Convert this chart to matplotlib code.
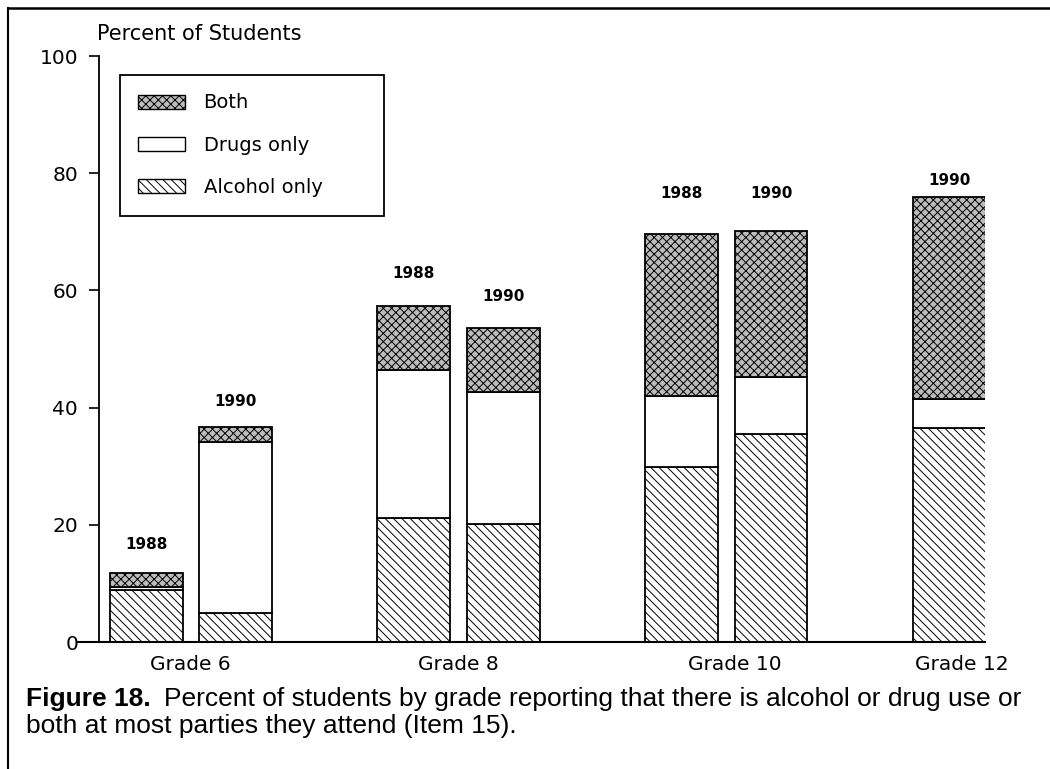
import matplotlib
matplotlib.use("Agg")
import matplotlib.pyplot as plt
from matplotlib.patches import Patch
from matplotlib.lines import Line2D

# data (percent of students)
grades = ["Grade 6", "Grade 8", "Grade 10", "Grade 12"]
bar_grade = [0, 0, 1, 1, 2, 2, 3]
bar_slot = [0, 1, 0, 1, 0, 1, 0]
bar_year = ["1988", "1990", "1988", "1990", "1988", "1990", "1990"]
alcohol = [8.8, 4.9, 21.2, 20.1, 29.9, 35.5, 36.6]
drugs = [0.6, 29.3, 25.2, 22.6, 12.0, 9.7, 4.8]
both = [2.4, 2.5, 10.9, 10.9, 27.8, 25.0, 34.5]
year_pad = [4.8, 4.3, 5.5, 5.4, 6.8, 6.4, 2.9]

W, H = 1050, 769
plt.rcParams['hatch.linewidth'] = 0.7
plt.rcParams['font.family'] = 'DejaVu Sans'

fig = plt.figure(figsize=(W / 100, H / 100), dpi=100)
ax = fig.add_axes([77 / W, 1 - 642 / H, 908 / W, (642 - 56) / H])

off = 0.167
width = 0.272
xs = [g + (-off if s == 0 else off) for g, s in zip(bar_grade, bar_slot)]

alc_hatch = '\\\\\\\\'
both_col = '#bcbcbc'
bot2 = [a + d for a, d in zip(alcohol, drugs)]
ax.bar(xs, alcohol, width, color='white', edgecolor='black', hatch=alc_hatch, linewidth=1.3)
ax.bar(xs, drugs, width, bottom=alcohol, color='white', edgecolor='black', linewidth=1.3)
ax.bar(xs, both, width, bottom=bot2, color=both_col, edgecolor='black', hatch='xxxx', linewidth=1.3)

for x, yr, b2, bo, p in zip(xs, bar_year, bot2, both, year_pad):
    ax.text(x, b2 + bo + p, yr, ha='center', va='center', fontsize=11, fontweight='bold')

ax.set_xlim(-0.425, 2.966)
ax.set_ylim(0, 100)
ax.spines['top'].set_visible(False)
ax.spines['right'].set_visible(False)
ax.spines['left'].set_position(('data', -0.343))
ax.spines['left'].set_linewidth(1.3)
ax.spines['bottom'].set_linewidth(1.5)

ax.set_yticks([0, 20, 40, 60, 80, 100])
ax.tick_params(axis='y', direction='out', length=7, width=1.2, labelsize=14.5, pad=8)

# grade labels: G12 sits under its single bar
grade_pos = [0, 1, 2.03, 2.88]
ax.set_xticks(grade_pos)
ax.set_xticklabels(grades, fontsize=14.5)
ax.tick_params(axis='x', length=0, pad=9)

fig.text(97 / W, 1 - 40 / H, "Percent of Students", fontsize=15, va='baseline')

handles = [Patch(facecolor=both_col, edgecolor='black', hatch='xxxx', label='Both'),
           Patch(facecolor='white', edgecolor='black', label='Drugs only'),
           Patch(facecolor='white', edgecolor='black', hatch=alc_hatch, label='Alcohol only')]
leg = ax.legend(handles=handles, loc='upper left',
                bbox_to_anchor=(120 / W, 1 - 215 / H, 264 / W, 140 / H),
                bbox_transform=fig.transFigure, mode='expand', borderaxespad=0,
                fontsize=14, handlelength=2.4, handleheight=0.75, handletextpad=0.95,
                labelspacing=1.2, borderpad=0.95, fancybox=False, framealpha=1)
leg.get_frame().set_edgecolor('black')
leg.get_frame().set_linewidth(1.3)

# outer frame of the figure page
fig.add_artist(Line2D([8 / W, 1], [1 - 8 / H, 1 - 8 / H], color='black', lw=1.8, transform=fig.transFigure))
fig.add_artist(Line2D([8 / W, 8 / W], [0, 1 - 8 / H], color='black', lw=1.5, transform=fig.transFigure))

# caption
cap_font = 'Liberation Sans'
cap_size = 19
t1 = fig.text(26 / W, 1 - 706 / H, "Figure 18.", fontsize=cap_size, fontweight='bold', family=cap_font, va='baseline')
fig.canvas.draw()
bb = t1.get_window_extent()
fig.text((bb.x1 + 13) / W, 1 - 706 / H,
         "Percent of students by grade reporting that there is alcohol or drug use or",
         fontsize=cap_size, family=cap_font, va='baseline')
fig.text(26 / W, 1 - 733 / H, "both at most parties they attend (Item 15).",
         fontsize=cap_size, family=cap_font, va='baseline')

plt.savefig("out.png", dpi=100)
